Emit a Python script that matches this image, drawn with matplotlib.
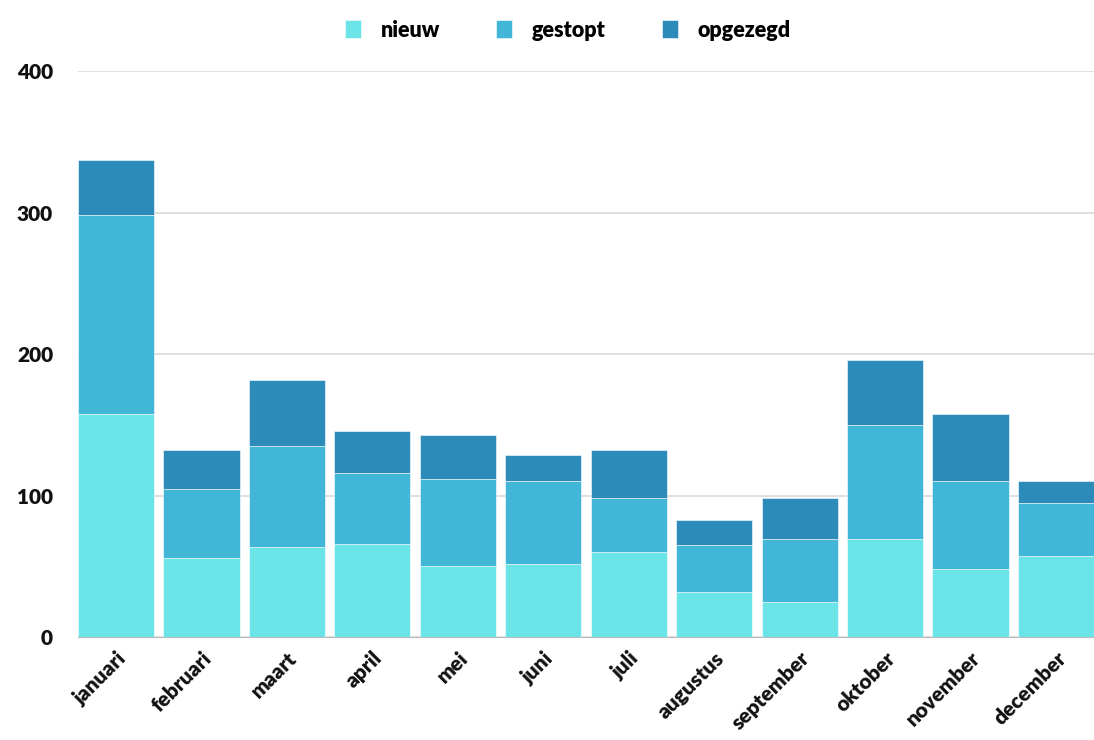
import numpy as np
import matplotlib.pyplot as plt

months = ["januari", "februari", "maart", "april", "mei", "juni", "juli",
          "augustus", "september", "oktober", "november", "december"]
nieuw = [158, 56, 64, 66, 50, 52, 60, 32, 25, 69, 48, 57]
gestopt = [140, 49, 71, 50, 62, 58, 38, 33, 44, 81, 62, 38]
opgezegd = [39, 27, 47, 30, 31, 19, 34, 18, 29, 46, 48, 15]

series = [("nieuw", nieuw, "#6be4e8"),
          ("gestopt", gestopt, "#41b6d6"),
          ("opgezegd", opgezegd, "#2d8bba")]

plt.rcParams["font.family"] = ["Lato", "DejaVu Sans"]
plt.rcParams["font.weight"] = "heavy"

fig = plt.figure(figsize=(10.94, 7.40), dpi=100)
ax = fig.add_axes([0.0713, 0.139, 0.9287, 0.765])

x = np.arange(len(months))
bottom = np.zeros(len(months))
for name, vals, color in series:
    ax.bar(x, vals, bottom=bottom, width=0.89, color=color, label=name,
           edgecolor="white", linewidth=0.4, zorder=3)
    bottom += np.array(vals)

ax.set_ylim(0, 400)
ax.set_xlim(-0.445, len(months) - 0.555)
ax.set_yticks([0, 100, 200, 300, 400])
ax.yaxis.grid(True, color="#d9d9d9", linewidth=1.2, zorder=0)
ax.set_axisbelow(True)
for side in ["top", "right", "left"]:
    ax.spines[side].set_visible(False)
ax.spines["bottom"].set_color("#bbbbbb")
ax.tick_params(axis="both", length=0, labelsize=15, colors="#111111")
ax.tick_params(axis="y", pad=18)
ax.set_xticks(x)
ax.set_xticklabels(months, rotation=45, ha="right", rotation_mode="anchor",
                   fontsize=15)
ax.tick_params(axis="x", pad=8)

ax.legend(loc="upper center", bbox_to_anchor=(0.482, 1.125), ncol=3,
          frameon=False, fontsize=15.5, handlelength=0.75, handleheight=0.9,
          columnspacing=2.6, handletextpad=0.9)

fig.savefig("out.png", dpi=100)
